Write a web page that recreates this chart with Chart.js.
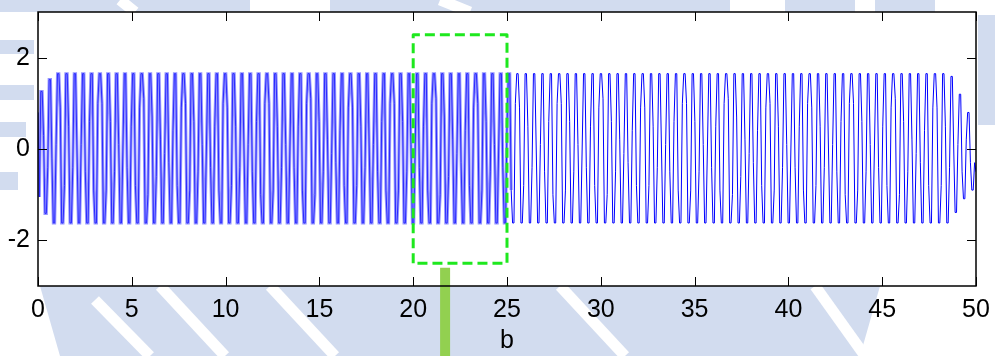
<!DOCTYPE html>
<html>
<head>
<meta charset="utf-8">
<script src="https://cdn.jsdelivr.net/npm/chart.js@4.4.0/dist/chart.umd.min.js"></script>
<style>
  html, body { margin: 0; padding: 0; background: #ffffff; }
  #wrap { width: 995px; height: 356px; position: relative; }
</style>
</head>
<body>
<div id="wrap"><canvas id="c" width="995" height="356"></canvas></div>
<script>
// Axis ranges and tick values
const xRange = [0, 50];
const yRange = [-3, 3];
const xTickValues = [0, 5, 10, 15, 20, 25, 30, 35, 40, 45, 50];
const yTickValues = [-2, 0, 2];
const xAxisTitle = 'b';

// Oscillation: lead-in samples, then per cycle a flat top, a falling kink,
// a flat bottom and a rising kink, then the closing sample.
const signalHead = [0.8, -1.05];
const cycleTop = [
  1.26, 1.52, 1.65, 1.65, 1.65, 1.65, 1.65, 1.65, 1.65, 1.65,
  1.65, 1.65, 1.65, 1.65, 1.65, 1.65, 1.65, 1.65, 1.65, 1.65,
  1.65, 1.65, 1.65, 1.65, 1.65, 1.65, 1.65, 1.65, 1.65, 1.65,
  1.65, 1.65, 1.65, 1.65, 1.65, 1.65, 1.65, 1.65, 1.65, 1.65,
  1.65, 1.65, 1.65, 1.65, 1.65, 1.65, 1.65, 1.65, 1.65, 1.65,
  1.65, 1.65, 1.65, 1.65, 1.65, 1.65, 1.65, 1.65, 1.65, 1.65,
  1.65, 1.65, 1.65, 1.65, 1.65, 1.65, 1.65, 1.65, 1.65, 1.65,
  1.65, 1.65, 1.65, 1.65, 1.65, 1.65, 1.65, 1.65, 1.65, 1.65,
  1.65, 1.65, 1.65, 1.65, 1.65, 1.65, 1.65, 1.65, 1.65, 1.65,
  1.65, 1.65, 1.65, 1.65, 1.65, 1.65, 1.65, 1.65, 1.65, 1.65,
  1.65, 1.65, 1.65, 1.65, 1.65, 1.65, 1.65, 1.65, 1.65, 1.59,
  1.20, 0.80
];
const cycleDownKink = [
   0.3, -0.2,  0.9,  0.5,  0.0, -0.5, -0.9,  1.0,  0.6,  0.1,
  -0.4, -0.8,  1.1,  0.7,  0.2, -0.3, -0.8,  1.0,  0.6,  0.1,
  -0.4, -0.9,  0.9,  0.5,  0.0, -0.5, -1.0,  1.0,  0.5,  0.1,
  -0.4, -0.9,  1.1,  0.6,  0.2, -0.3, -0.8,  0.9,  0.5,  0.0,
  -0.5, -0.9,  1.0,  0.6,  0.1, -0.4, -0.9,  1.1,  0.7,  0.2,
  -0.3, -0.8,  1.0,  0.6,  0.1, -0.4, -0.9,  0.9,  0.5,  0.0,
  -0.5, -1.0,  1.0,  0.6,  0.1, -0.4, -0.8,  1.1,  0.6,  0.2,
  -0.3, -0.8,  0.9,  0.5,  0.0, -0.5, -0.9,  1.0,  0.6,  0.1,
  -0.4, -0.9,  1.1,  0.7,  0.2, -0.3, -0.8,  1.0,  0.5,  0.1,
  -0.4, -0.9,  0.9,  0.5,  0.0, -0.5, -1.0,  1.0,  0.6,  0.1,
  -0.4, -0.8,  1.1,  0.6,  0.2, -0.3, -0.8,  0.9,  0.5,  0.0,
  -0.5, -0.3
];
const cycleBottom = [
  -1.41, -1.62, -1.62, -1.62, -1.62, -1.62, -1.62, -1.62, -1.62, -1.62,
  -1.62, -1.62, -1.62, -1.62, -1.62, -1.62, -1.62, -1.62, -1.62, -1.62,
  -1.62, -1.62, -1.62, -1.62, -1.62, -1.62, -1.62, -1.62, -1.62, -1.62,
  -1.62, -1.62, -1.62, -1.62, -1.62, -1.62, -1.62, -1.62, -1.62, -1.62,
  -1.62, -1.62, -1.62, -1.62, -1.62, -1.62, -1.62, -1.62, -1.62, -1.62,
  -1.62, -1.62, -1.62, -1.62, -1.62, -1.62, -1.62, -1.62, -1.62, -1.62,
  -1.62, -1.62, -1.62, -1.62, -1.62, -1.62, -1.62, -1.62, -1.62, -1.62,
  -1.62, -1.62, -1.62, -1.62, -1.62, -1.62, -1.62, -1.62, -1.62, -1.62,
  -1.62, -1.62, -1.62, -1.62, -1.62, -1.62, -1.62, -1.62, -1.62, -1.62,
  -1.62, -1.62, -1.62, -1.62, -1.62, -1.62, -1.62, -1.62, -1.62, -1.62,
  -1.62, -1.62, -1.62, -1.62, -1.62, -1.62, -1.62, -1.62, -1.62, -1.39,
  -1.09, -0.90
];
const cycleUpKink = [
  -0.4,  0.1, -0.8, -0.4,  0.1,  0.6,  1.0, -0.9, -0.5,  0.0,
   0.5,  0.9, -1.0, -0.6, -0.1,  0.4,  0.9, -0.9, -0.5,  0.0,
   0.5,  1.0, -0.8, -0.4,  0.1,  0.6,  1.0, -0.9, -0.4,  0.0,
   0.5,  1.0, -1.0, -0.5, -0.1,  0.4,  0.9, -0.8, -0.4,  0.1,
   0.6,  1.0, -0.9, -0.5,  0.0,  0.5,  1.0, -1.0, -0.6, -0.1,
   0.4,  0.9, -0.9, -0.5,  0.0,  0.5,  1.0, -0.8, -0.4,  0.1,
   0.6,  1.0, -0.9, -0.5,  0.0,  0.5,  0.9, -1.0, -0.5, -0.1,
   0.4,  0.9, -0.8, -0.4,  0.1,  0.6,  1.0, -0.9, -0.5,  0.0,
   0.5,  1.0, -1.0, -0.6, -0.1,  0.4,  0.9, -0.9, -0.4,  0.0,
   0.5,  1.0, -0.8, -0.4,  0.1,  0.6,  1.0, -0.9, -0.5,  0.0,
   0.5,  0.9, -1.0, -0.5, -0.1,  0.4,  0.9, -0.8, -0.4,  0.1,
   0.2, -0.3
];
const signalTail = [-0.5];

// Highlighted window and the pointer bar beneath it
const windowX = [20, 25];
const windowY = [-2.5, 2.5];
const pointerX = 21.7;
const pointerY = [-2.6, -4.7];

// Assemble the sampled series on an even time grid across the x range
const samples = [...signalHead];
for (let i = 0; i < cycleTop.length; i++) {
  samples.push(cycleTop[i], cycleTop[i], cycleDownKink[i],
               cycleBottom[i], cycleBottom[i], cycleUpKink[i]);
}
samples.push(...signalTail);
const dt = (xRange[1] - xRange[0]) / (samples.length - 1);
const signalPoints = samples.map((v, i) => ({ x: xRange[0] + i * dt, y: v }));

const windowPoints = [
  { x: windowX[0], y: windowY[0] }, { x: windowX[0], y: windowY[1] },
  { x: windowX[1], y: windowY[1] }, { x: windowX[1], y: windowY[0] },
  { x: windowX[0], y: windowY[0] }
];
const pointerPoints = [{ x: pointerX, y: pointerY[0] }, { x: pointerX, y: pointerY[1] }];

const FONT = 'Liberation Sans, Arial, sans-serif';
const DENSE_END = 25.2; // the first half of the trace renders as a denser band

// Faint page emblem behind the figure margins; the plot area stays white
const emblemPlugin = {
  id: 'emblem',
  beforeDraw(chart) {
    const { ctx, width, height, chartArea: a } = chart;
    ctx.save();
    ctx.fillStyle = '#d2dcef';
    // top margin
    ctx.fillRect(0, 0, 250, a.top);
    ctx.fillRect(330, 0, 400, a.top);
    ctx.fillRect(785, 0, 70, a.top);
    ctx.fillRect(875, 0, 60, a.top);
    // left margin bars
    ctx.fillRect(0, 40, 34, 14);
    ctx.fillRect(0, 85, 34, 15);
    ctx.fillRect(0, 122, 26, 15);
    ctx.fillRect(0, 172, 18, 18);
    // right margin
    ctx.fillRect(a.right + 2, 15, width - a.right - 2, 110);
    // lower band
    ctx.beginPath();
    ctx.moveTo(40, a.bottom); ctx.lineTo(880, a.bottom);
    ctx.lineTo(860, height); ctx.lineTo(60, height);
    ctx.closePath();
    ctx.fill();
    // white diagonal cuts through the emblem
    ctx.strokeStyle = '#ffffff';
    ctx.lineWidth = 11;
    [[95, 300, 150, 356], [160, a.bottom, 225, 356], [270, a.bottom, 335, 356],
     [560, a.bottom, 625, 356], [815, a.bottom, 865, 356], [440, 0, 470, a.top],
     [120, 0, 135, a.top]].forEach(([x1, y1, x2, y2]) => {
      ctx.beginPath(); ctx.moveTo(x1, y1); ctx.lineTo(x2, y2); ctx.stroke();
    });
    ctx.fillStyle = '#ffffff';
    ctx.fillRect(a.left, a.top, a.right - a.left, a.bottom - a.top);
    ctx.restore();
  }
};

// Box frame with inward tick marks on all four sides
const framePlugin = {
  id: 'frame',
  afterDatasetsDraw(chart) {
    const { ctx, chartArea: a, scales: { x, y } } = chart;
    const tl = 9;
    ctx.save();
    ctx.strokeStyle = '#000';
    ctx.lineWidth = 1;
    ctx.beginPath();
    xTickValues.forEach(v => {
      const px = Math.round(x.getPixelForValue(v)) + 0.5;
      ctx.moveTo(px, a.bottom); ctx.lineTo(px, a.bottom - tl);
      ctx.moveTo(px, a.top); ctx.lineTo(px, a.top + tl);
    });
    yTickValues.forEach(v => {
      const py = Math.round(y.getPixelForValue(v)) + 0.5;
      ctx.moveTo(a.left, py); ctx.lineTo(a.left + tl, py);
      ctx.moveTo(a.right, py); ctx.lineTo(a.right - tl, py);
    });
    ctx.stroke();
    ctx.lineWidth = 1.5;
    ctx.strokeRect(a.left, a.top, a.right - a.left, a.bottom - a.top);
    ctx.restore();
  }
};

new Chart(document.getElementById('c'), {
  type: 'line',
  data: {
    datasets: [
      {
        data: windowPoints,
        borderColor: '#1ee81e',
        borderWidth: 3,
        borderDash: [10, 5],
        borderJoinStyle: 'round',
        pointRadius: 0,
        order: 0
      },
      {
        data: pointerPoints,
        borderColor: '#92d050',
        borderWidth: 10,
        borderCapStyle: 'butt',
        pointRadius: 0,
        clip: false,
        order: 1
      },
      {
        data: signalPoints,
        borderWidth: 1,
        pointRadius: 0,
        segment: {
          borderColor: c => (c.p0.parsed.x < DENSE_END ? '#2a2aff' : '#0000ff')
        },
        order: 2
      },
      {
        data: signalPoints,
        borderWidth: 3,
        pointRadius: 0,
        segment: {
          borderColor: c => (c.p0.parsed.x < DENSE_END ? '#9494ff' : 'rgba(0,0,0,0)')
        },
        order: 3
      }
    ]
  },
  options: {
    responsive: false,
    animation: false,
    devicePixelRatio: 1,
    parsing: false,
    events: [],
    layout: { padding: { top: 12, right: 19, left: 0, bottom: 0 } },
    plugins: { legend: { display: false }, tooltip: { enabled: false } },
    elements: { line: { tension: 0 } },
    scales: {
      x: {
        type: 'linear',
        min: xRange[0],
        max: xRange[1],
        afterBuildTicks: s => { s.ticks = xTickValues.map(v => ({ value: v })); },
        afterFit: s => { s.height = 70; s.paddingLeft = 0; s.paddingRight = 0; },
        grid: { display: false, drawTicks: false },
        border: { display: false },
        ticks: { color: '#000', padding: 9, maxRotation: 0, font: { family: FONT, size: 25 } },
        title: {
          display: true, text: xAxisTitle, color: '#000',
          font: { family: FONT, size: 25 }, padding: { top: 0, bottom: 0 }
        }
      },
      y: {
        type: 'linear',
        min: yRange[0],
        max: yRange[1],
        afterBuildTicks: s => { s.ticks = yTickValues.map(v => ({ value: v })); },
        afterFit: s => { s.width = 38; s.paddingTop = 0; s.paddingBottom = 0; },
        grid: { display: false, drawTicks: false },
        border: { display: false },
        ticks: { color: '#000', padding: 8, font: { family: FONT, size: 25 } }
      }
    }
  },
  plugins: [emblemPlugin, framePlugin]
});
</script>
</body>
</html>
